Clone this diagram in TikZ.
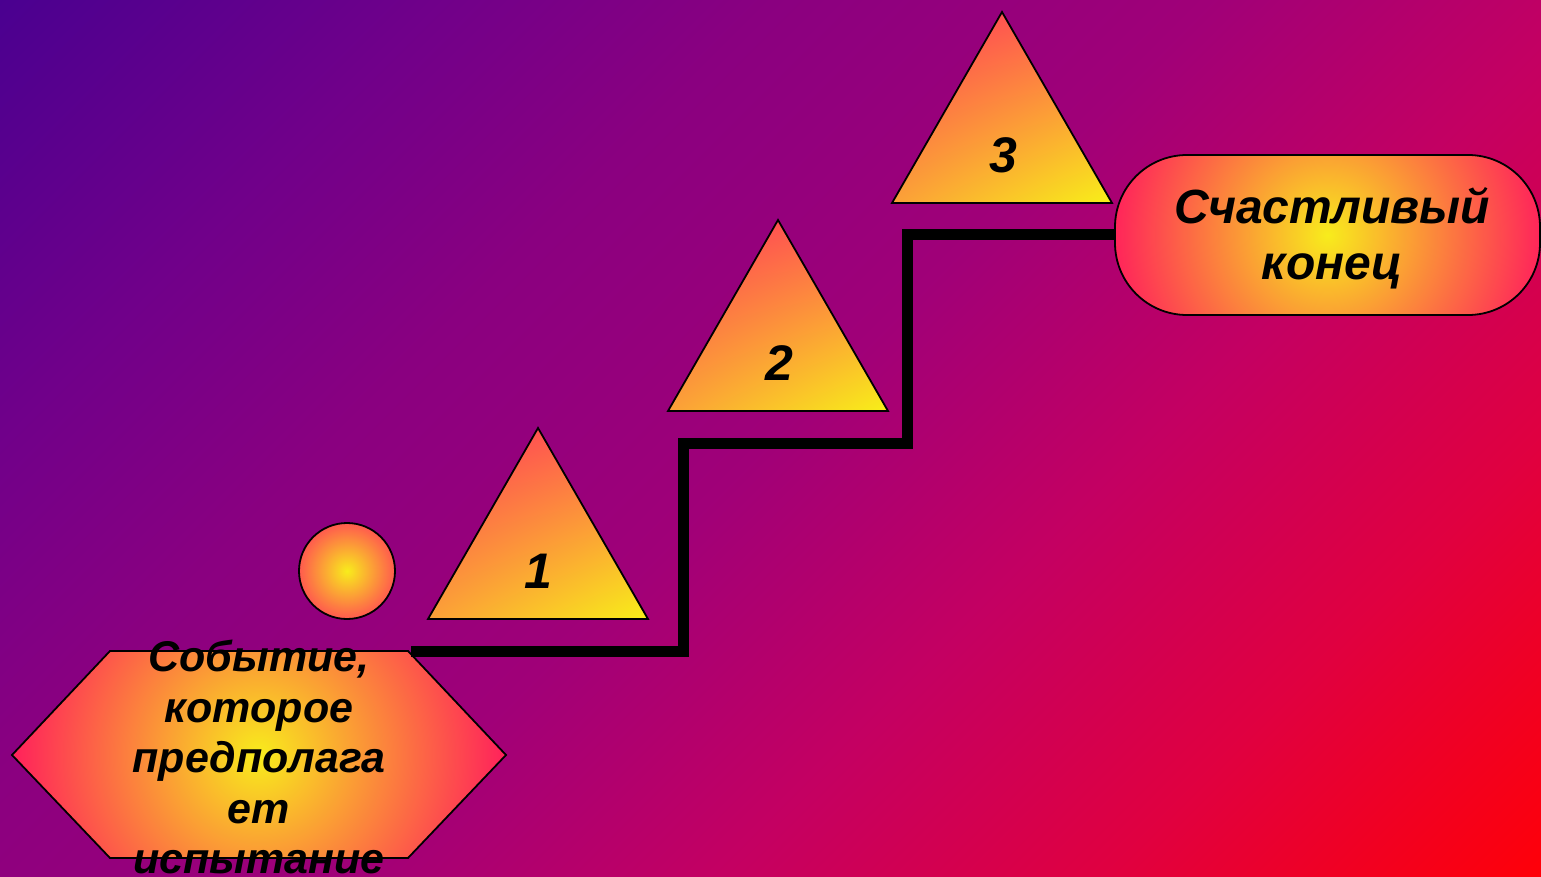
\documentclass[tikz,border=0pt]{standalone}
\usepackage{fontspec}
\setmainfont{Liberation Sans}
\usetikzlibrary{shadings}
\definecolor{bgA}{HTML}{4A0090}
\definecolor{bgB}{HTML}{70008A}
\definecolor{bgC}{HTML}{8A0080}
\definecolor{bgD}{HTML}{A00078}
\definecolor{bgE}{HTML}{C40062}
\definecolor{bgF}{HTML}{E00040}
\definecolor{bgG}{HTML}{FF0008}
\pgfdeclarehorizontalshading{bgdiag}{100bp}{color(0bp)=(bgA); color(25bp)=(bgA); color(34bp)=(bgB); color(41bp)=(bgC); color(50bp)=(bgD); color(58bp)=(bgE); color(66bp)=(bgF); color(75bp)=(bgG); color(100bp)=(bgG)}
\definecolor{sunY}{HTML}{F8EC1C}
\definecolor{hotP}{HTML}{FF1E5C}
\definecolor{ballO}{HTML}{FF5A4E}
\definecolor{triR}{HTML}{FF3A58}
\definecolor{triM}{HTML}{FF6A4A}
\definecolor{triL}{HTML}{FBA038}
\definecolor{triY}{HTML}{F8F018}
\tikzset{
  outline/.style={draw=black, line width=1.8pt},
  tri/.style={outline, upper left=triR, upper right=triM, lower left=triL, lower right=triY},
  numlbl/.style={font=\bfseries\itshape\fontsize{50}{56}\selectfont, inner sep=0pt},
  biglbl/.style={font=\bfseries\itshape\fontsize{48}{56}\selectfont, inner sep=0pt, align=center},
  hexlbl/.style={font=\bfseries\itshape\fontsize{43}{50.5}\selectfont, inner sep=0pt, align=center},
  stair/.style={line width=11pt, draw=black, line join=miter},
}
\begin{document}
\begin{tikzpicture}[x=1pt,y=1pt]
\useasboundingbox (0,0) rectangle (1541,-877);
\begin{scope}
  \clip (0,0) rectangle (1541,-877);
  \shade[shading=bgdiag, transform canvas={rotate around={-45:(0,0)}}] (0,-620.2) rectangle (1709.8,1089.8);
\end{scope}

% triangles
\shadedraw[tri] (428,-619) -- (538,-428) -- (648,-619) -- cycle;
\node[numlbl] (t1) at (538,-571) {1};
\shadedraw[tri] (668,-411) -- (778,-220) -- (888,-411) -- cycle;
\node[numlbl] (t2) at (779,-363) {2};
\shadedraw[tri] (892,-203) -- (1002,-12) -- (1112,-203) -- cycle;
\node[numlbl] (t3) at (1003,-155) {3};

% ball
\node[circle, outline, inner color=sunY, outer color=ballO, minimum size=96pt, inner sep=0pt] (ball) at (347,-571) {};

% hexagon
\draw[outline, path picture={\shade[inner color=sunY, outer color=hotP] (259,-755) circle (250);}]
  (12,-755) -- (110,-651) -- (408,-651) -- (506,-755) -- (408,-858) -- (110,-858) -- cycle;
\coordinate (hexTR) at (408,-651);
\node[hexlbl] (hext) at (259,-757) {Событие,\\которое\\предполага\\ет\\испытание};

% goal
\node[outline, rounded corners=72pt, minimum width=425pt, minimum height=160pt, inner sep=0pt,
  path picture={\shade[inner color=sunY, outer color=hotP] (path picture bounding box.center) circle (220);}]
  (goal) at (1327.5,-235) {};
\node[biglbl] (goalt) at (1332,-238) {Счастливый\\конец};

% stair connector
\coordinate (s0) at ([xshift=3pt]hexTR);
\coordinate (k1) at (683,-443);
\coordinate (k2) at (907,-235);
\draw[stair] (s0) -| (k1) -| (k2) -- (goal.west);
\end{tikzpicture}
\end{document}
